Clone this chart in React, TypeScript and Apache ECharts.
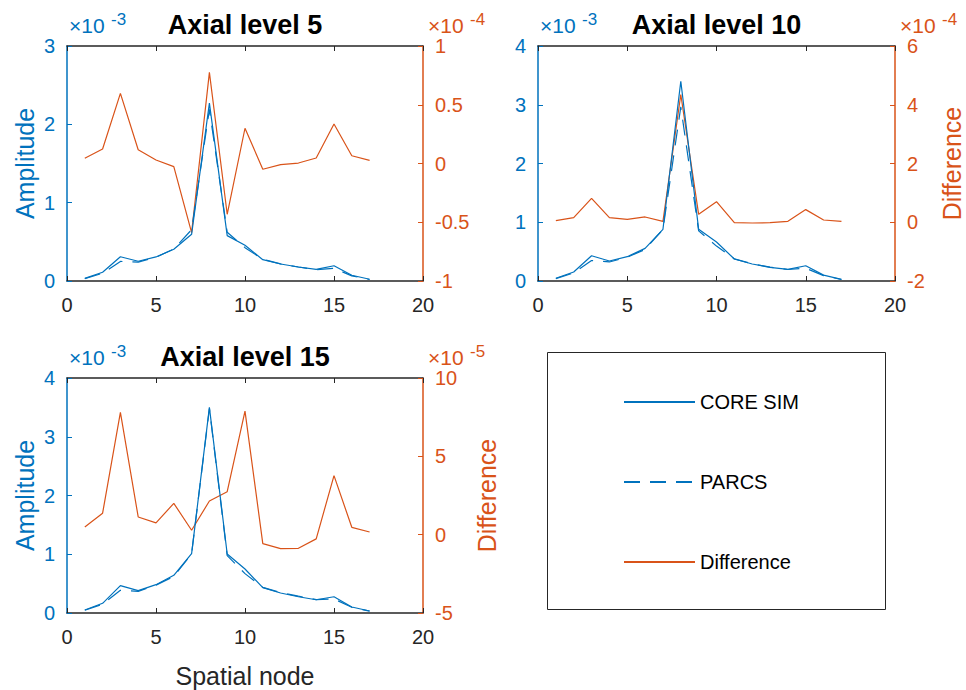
import React, { useEffect, useRef } from 'react';
import * as echarts from 'echarts';

// Spatial nodes
const nodes = [1, 2, 3, 4, 5, 6, 7, 8, 9, 10, 11, 12, 13, 14, 15, 16, 17];

// Axial level 5  (amplitude in units of 1e-3, difference in units of 1e-4)
const coreSim5 = [0.034, 0.111, 0.31, 0.252, 0.307, 0.405, 0.596, 2.27, 0.579, 0.456, 0.272, 0.217, 0.179, 0.149, 0.195, 0.073, 0.022];
const parcs5 = [0.030, 0.099, 0.25, 0.240, 0.304, 0.408, 0.655, 2.19, 0.622, 0.426, 0.277, 0.218, 0.179, 0.144, 0.161, 0.066, 0.019];
const diff5 = [0.044, 0.123, 0.597, 0.117, 0.03, -0.027, -0.589, 0.776, -0.432, 0.30, -0.049, -0.01, 0.004, 0.047, 0.336, 0.066, 0.027];

// Axial level 10 (amplitude 1e-3, difference 1e-4)
const coreSim10 = [0.046, 0.153, 0.43, 0.34, 0.414, 0.556, 0.88, 3.40, 0.88, 0.664, 0.374, 0.289, 0.233, 0.199, 0.26, 0.10, 0.029];
const parcs10 = [0.041, 0.137, 0.348, 0.324, 0.404, 0.538, 0.877, 2.965, 0.853, 0.594, 0.376, 0.292, 0.235, 0.196, 0.217, 0.092, 0.026];
const diff10 = [0.053, 0.155, 0.815, 0.155, 0.10, 0.18, 0.03, 4.35, 0.27, 0.70, -0.015, -0.025, -0.015, 0.03, 0.43, 0.077, 0.03];

// Axial level 15 (amplitude 1e-3, difference 1e-5)
const coreSim15 = [0.051, 0.165, 0.465, 0.38, 0.482, 0.642, 1.01, 3.50, 1.004, 0.749, 0.431, 0.34, 0.277, 0.226, 0.277, 0.102, 0.034];
const parcs15 = [0.046, 0.151, 0.387, 0.369, 0.475, 0.622, 1.007, 3.479, 0.977, 0.670, 0.437, 0.349, 0.286, 0.229, 0.239, 0.097, 0.032];
const diff15 = [0.49, 1.37, 7.81, 1.13, 0.75, 2.0, 0.28, 2.15, 2.74, 7.89, -0.57, -0.89, -0.87, -0.27, 3.77, 0.47, 0.17];

const titles = ['Axial level 5', 'Axial level 10', 'Axial level 15'];
const seriesNames = ['CORE SIM', 'PARCS', 'Difference'];
const leftRanges = [[0, 3, 1], [0, 4, 1], [0, 4, 1]];
const rightRanges = [[-1, 1, 0.5], [-2, 6, 2], [-5, 10, 5]];
const xRange = [0, 20, 5];
const leftExp = ['-3', '-3', '-3'];
const rightExp = ['-4', '-4', '-5'];

const BLUE = '#0072BD';
const ORANGE = '#D95319';
const DARK = '#262626';
const FONT = '"Liberation Sans", Arial, Helvetica, sans-serif';

const grids = [
  { left: 67, top: 46, width: 356, height: 235 },
  { left: 538, top: 46, width: 357, height: 235 },
  { left: 67, top: 378, width: 356, height: 235 },
];

export default function App() {
  const ref = useRef<HTMLDivElement>(null);
  useEffect(() => {
    if (!ref.current) return;
    const chart = echarts.init(ref.current, undefined, { renderer: 'svg' });
    const data = [
      [coreSim5, parcs5, diff5],
      [coreSim10, parcs10, diff10],
      [coreSim15, parcs15, diff15],
    ];
    const pair = (arr: number[]) => nodes.map((n, k) => [n, arr[k]]);

    const xAxis: any[] = [];
    const yAxis: any[] = [];
    const series: any[] = [];
    const graphic: any[] = [];
    const title: any[] = [];

    grids.forEach((g, i) => {
      xAxis.push({
        type: 'value', gridIndex: i, min: xRange[0], max: xRange[1], interval: xRange[2],
        position: 'bottom',
        axisLine: { onZero: false, lineStyle: { color: DARK, width: 1.5 } },
        axisTick: { inside: true, length: 5, lineStyle: { color: DARK, width: 1 } },
        axisLabel: { color: DARK, fontSize: 20, fontFamily: FONT, margin: 14 },
        splitLine: { show: false },
        name: i === 2 ? 'Spatial node' : '',
        nameLocation: 'middle', nameGap: 50,
        nameTextStyle: { color: DARK, fontSize: 25, fontFamily: FONT },
      });
      xAxis.push({
        type: 'value', gridIndex: i, min: xRange[0], max: xRange[1], interval: xRange[2],
        position: 'top',
        axisLine: { onZero: false, lineStyle: { color: DARK, width: 1.5 } },
        axisTick: { inside: true, length: 5, lineStyle: { color: DARK, width: 1 } },
        axisLabel: { show: false },
        splitLine: { show: false },
      });
      const lr = leftRanges[i];
      const rr = rightRanges[i];
      yAxis.push({
        type: 'value', gridIndex: i, position: 'left', min: lr[0], max: lr[1], interval: lr[2],
        axisLine: { show: true, onZero: false, lineStyle: { color: BLUE, width: 1.5 } },
        axisTick: { show: true, inside: true, length: 5, lineStyle: { color: BLUE, width: 1 } },
        axisLabel: { color: BLUE, fontSize: 20, fontFamily: FONT, margin: 12 },
        splitLine: { show: false },
        name: i === 1 ? '' : 'Amplitude',
        nameLocation: 'middle', nameGap: 30,
        nameTextStyle: { color: BLUE, fontSize: 25, fontFamily: FONT },
      });
      yAxis.push({
        type: 'value', gridIndex: i, position: 'right', min: rr[0], max: rr[1], interval: rr[2],
        axisLine: { show: true, onZero: false, lineStyle: { color: ORANGE, width: 1.5 } },
        axisTick: { show: true, inside: true, length: 5, lineStyle: { color: ORANGE, width: 1 } },
        axisLabel: { color: ORANGE, fontSize: 20, fontFamily: FONT, margin: 12 },
        splitLine: { show: false },
        name: i === 0 ? '' : 'Difference',
        nameLocation: 'middle', nameGap: i === 1 ? 44 : 51,
        nameTextStyle: { color: ORANGE, fontSize: 25, fontFamily: FONT },
      });

      const [core, parcs, diff] = data[i];
      series.push({
        name: seriesNames[2], type: 'line', xAxisIndex: 2 * i, yAxisIndex: 2 * i + 1,
        data: pair(diff), symbol: 'none', showSymbol: false,
        lineStyle: { color: ORANGE, width: 1.2 }, itemStyle: { color: ORANGE },
      });
      series.push({
        name: seriesNames[0], type: 'line', xAxisIndex: 2 * i, yAxisIndex: 2 * i,
        data: pair(core), symbol: 'none', showSymbol: false,
        lineStyle: { color: BLUE, width: 1.2 }, itemStyle: { color: BLUE },
      });
      series.push({
        name: seriesNames[1], type: 'line', xAxisIndex: 2 * i, yAxisIndex: 2 * i,
        data: pair(parcs), symbol: 'none', showSymbol: false,
        lineStyle: { color: BLUE, width: 1.2, type: [16, 10] }, itemStyle: { color: BLUE },
      });

      title.push({
        text: titles[i], left: g.left + g.width / 2, top: g.top - 35, textAlign: 'center', padding: 0,
        textStyle: { color: '#000', fontSize: 27, fontWeight: 'bold', fontFamily: FONT },
      });

      // exponent labels
      graphic.push({
        type: 'text', left: g.left + 2, top: g.top - 31,
        style: { text: '×10', fill: BLUE, fontSize: 21, fontFamily: FONT },
      });
      graphic.push({
        type: 'text', left: g.left + 44, top: g.top - 35,
        style: { text: leftExp[i], fill: BLUE, fontSize: 17, fontFamily: FONT },
      });
      graphic.push({
        type: 'text', left: g.left + g.width + 5, top: g.top - 31,
        style: { text: '×10', fill: ORANGE, fontSize: 21, fontFamily: FONT },
      });
      graphic.push({
        type: 'text', left: g.left + g.width + 47, top: g.top - 35,
        style: { text: rightExp[i], fill: ORANGE, fontSize: 17, fontFamily: FONT },
      });
    });

    graphic.push({
      type: 'rect', shape: { x: 547.5, y: 352.5, width: 338, height: 257 },
      style: { fill: 'transparent', stroke: DARK, lineWidth: 1 }, z: -1,
    });

    chart.setOption({
      animation: false,
      backgroundColor: '#fff',
      title,
      grid: grids,
      xAxis,
      yAxis,
      series,
      graphic,
      legend: {
        data: seriesNames, orient: 'vertical', left: 623, top: 392,
        itemWidth: 71, itemHeight: 14, itemGap: 60, padding: 0,
        selectedMode: false,
        itemStyle: { opacity: 0 },
        textStyle: { color: '#000', fontSize: 20, fontFamily: FONT },
      },
    });
    return () => chart.dispose();
  }, []);
  return <div ref={ref} style={{ position: 'absolute', left: 0, top: 0, width: 966, height: 690 }} />;
}
